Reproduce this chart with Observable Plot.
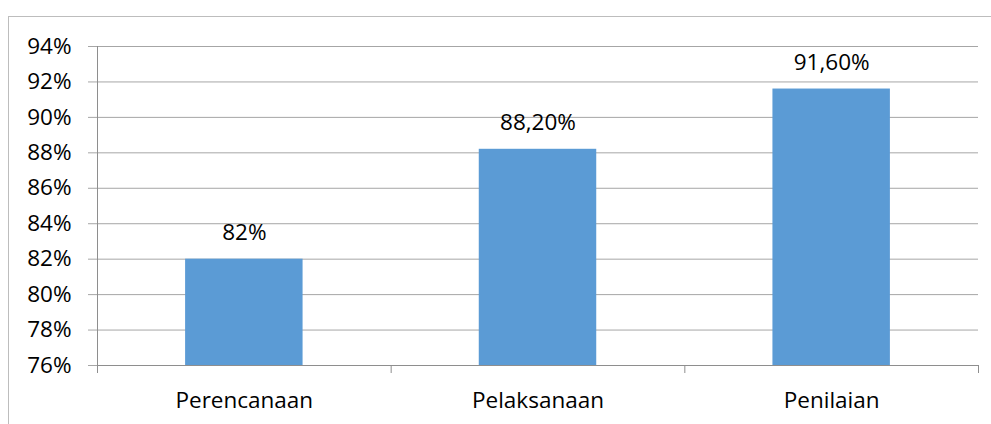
<!DOCTYPE html>
<html><head><meta charset="utf-8">
<script src="https://cdn.jsdelivr.net/npm/d3@7"></script>
<script src="https://cdn.jsdelivr.net/npm/@observablehq/plot@0.6"></script>
<style>
html,body{margin:0;padding:0;background:#fff;overflow:hidden}
#frame{position:absolute;left:8px;top:16px;width:1200px;height:600px;border-left:1px solid #bdbdbd;border-top:1px solid #bdbdbd}
#chart{position:absolute;left:0;top:0}
</style></head><body><div id="frame"></div><div id="chart"></div>
<script>
const categories = ["Perencanaan", "Pelaksanaan", "Penilaian"];
const values = [82, 88.2, 91.6];
const valueLabels = ["82%", "88,20%", "91,60%"];
const yTicks = [76, 78, 80, 82, 84, 86, 88, 90, 92, 94];
const yTickLabels = ["76%", "78%", "80%", "82%", "84%", "86%", "88%", "90%", "92%", "94%"];

const data = categories.map((c, i) => ({i, category: c, value: values[i], label: valueLabels[i]}));
const gridColor = "#a6a6a6";
const axisColor = "#8e8e8e";

const chart = Plot.plot({
  width: 991,
  height: 424,
  marginLeft: 97,
  marginRight: 13,
  marginTop: 46,
  marginBottom: 59,
  style: {fontFamily: "'Open Sans', sans-serif", fontSize: "22.5px", color: "#000", background: "transparent", overflow: "visible"},
  x: {type: "linear", domain: [0, 3], label: null},
  y: {domain: [76, 94], label: null},
  marks: [
    Plot.gridY(yTicks, {stroke: gridColor, strokeOpacity: 1}),
    Plot.axisY(yTicks, {label: null, tickSize: 9, tickPadding: 17, stroke: gridColor, strokeOpacity: 1, fill: "#000", tickFormat: d => yTickLabels[yTicks.indexOf(d)], fontSize: 22.5}),
    Plot.rectY(data, {x1: d => d.i + 0.3, x2: d => d.i + 0.7, y1: 76, y2: "value", fill: "#5b9bd5"}),
    Plot.ruleY([76], {stroke: axisColor}),
    Plot.ruleX([0], {y1: 76, y2: 94, stroke: axisColor}),
    Plot.axisX([0, 1, 2, 3], {label: null, tickSize: 8, stroke: axisColor, strokeOpacity: 1, tickFormat: () => ""}),
    Plot.axisX([0.5, 1.5, 2.5], {label: null, tickSize: 0, tickPadding: 27, fill: "#000", tickFormat: d => categories[Math.floor(d)], fontSize: 22.5}),
    Plot.text(data, {x: d => d.i + 0.5, y: "value", text: "label", dy: -19, lineAnchor: "bottom", fill: "#000", fontSize: 22.5})
  ]
});
document.getElementById("chart").appendChild(chart);
</script>
</body></html>
